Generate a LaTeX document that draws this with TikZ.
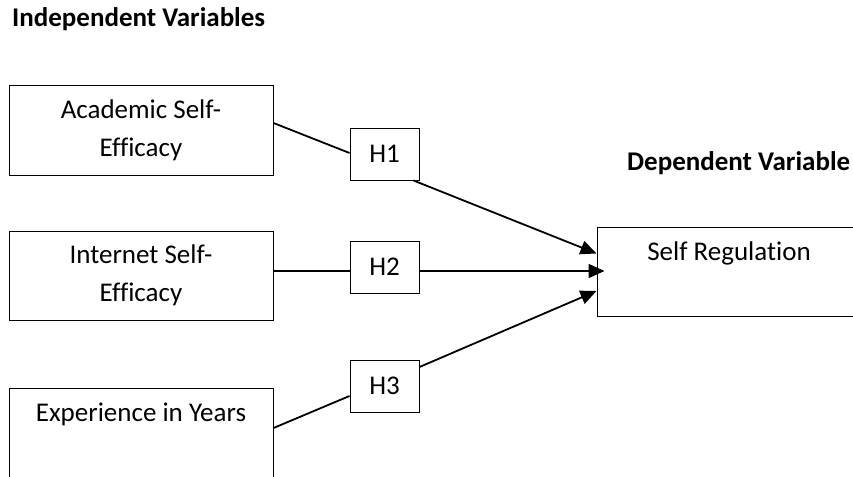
\documentclass[tikz,border=0pt]{standalone}
\usepackage{fontspec}
\setmainfont{Carlito}[Ligatures=NoCommon]
\usetikzlibrary{arrows.meta,calc}

\begin{document}
\begin{tikzpicture}[x=1pt,y=-1pt,
    varbox/.style={draw,line width=1pt,minimum width=264pt,minimum height=89pt,inner sep=0pt,align=center,font=\fontsize{27}{38}\selectfont},
    hypbox/.style={draw,line width=1pt,minimum width=69pt,minimum height=52pt,inner sep=0pt,font=\fontsize{27}{33}\selectfont},
    heading/.style={anchor=base west,inner sep=0pt,font=\fontsize{27}{33}\selectfont\bfseries},
    link/.style={line width=1.8pt},
    arrowlink/.style={link,-{Triangle[length=16pt,width=14pt]}}]
            \useasboundingbox (0,0) rectangle (853,476);
            \clip (0,0) rectangle (853,476);
            % headings
            \node[heading] (indep) at (12,27) {Independent Variables};
            \node[heading] (dep) at (627,170) {Dependent Variable};
            % variables
            \node[varbox] (acad) at (141,130.5) {Academic Self-\\Efficacy};
            \node[varbox] (inet) at (141,275.5) {Internet Self-\\Efficacy};
            \node[varbox,text depth=40pt] (exper) at (141,432.5) {Experience in Years};
            \node[varbox,text depth=40pt] (sreg) at (729,271.5) {Self Regulation};
            % hypotheses
            \node[hypbox] (h1) at (384.5,154) {H1};
            \node[hypbox] (h2) at (384.5,267) {H2};
            \node[hypbox] (h3) at (384.5,386) {H3};
            % paths
            \draw[link] ($(acad.east)+(0,-7.5)$) -- ($(h1.west)+(0,-1)$);
            \draw[arrowlink] ($(h1.south east)+(-6,0)$) -- ($(sreg.west)+(0,-18)$);
            \draw[link] ($(inet.east)+(0,-4.5)$) -- ($(h2.west)+(0,4)$);
            \draw[arrowlink] ($(h2.east)+(0,4)$) -- ($(sreg.west)+(8,-0.5)$);
            \draw[link] ($(exper.east)+(0,-4.5)$) -- ($(h3.west)+(0,10)$);
            \draw[arrowlink] ($(h3.east)+(0,-19)$) -- ($(sreg.west)+(0,19.5)$);
        \end{tikzpicture}
\end{document}
